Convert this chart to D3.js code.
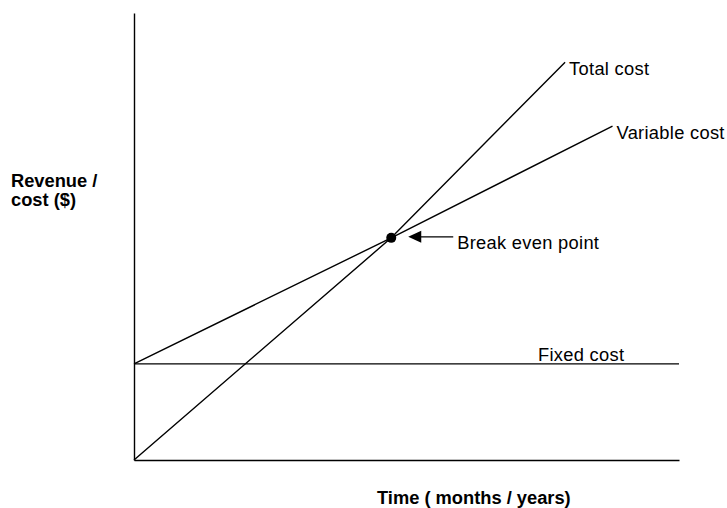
<!DOCTYPE html>
<html>

<head>
    <title>Break even chart</title>
    <script src="https://d3js.org/d3.v7.min.js"></script>
    <style>
        body { margin: 0; background: #fff; }
        text { font-family: "Liberation Sans", Arial, sans-serif; fill: #000; }
        .lbl { font-size: 18.3px; letter-spacing: 0.3px; }
        .ttl { font-size: 18.3px; font-weight: bold; }
    </style>
</head>

<body>
    <script>
        // values (x: 0-100 time, y: 0-100 revenue / cost)
        var fixedCost = [[0, 21.5], [100, 21.5]];
        var variableCost = [[0, 21.5], [47.2, 49.7], [87.8, 74.7]];
        var totalCost = [[0, 0], [47.2, 49.7], [79.1, 89.0]];
        var breakEven = [47.2, 49.7];
        var lineLabels = ["Total cost", "Variable cost", "Fixed cost"];

        var width = 727;
        var height = 508;

        var x = d3.scaleLinear().domain([0, 100]).range([134, 679]);
        var y = d3.scaleLinear().domain([0, 100]).range([460, 13]);

        var svg = d3.select("body").append("svg")
            .attr("width", width)
            .attr("height", height);

        // axes, no ticks
        var xAxis = d3.axisBottom(x).tickValues([]).tickSizeOuter(0);
        var yAxis = d3.axisLeft(y).tickValues([]).tickSizeOuter(0);
        svg.append("g").attr("transform", "translate(0," + y(0) + ")").call(xAxis);
        svg.append("g").attr("transform", "translate(" + x(0) + ",0)").call(yAxis);
        svg.selectAll(".domain").style("stroke", "#000").style("stroke-width", 1.4);

        var line = d3.line().x(d => x(d[0])).y(d => y(d[1]));

        [fixedCost, variableCost, totalCost].forEach(series => {
            svg.append("path")
                .attr("d", line(series))
                .style("fill", "none")
                .style("stroke", "#000")
                .style("stroke-width", 1.4);
        });

        // labels at the end of each line
        var tEnd = totalCost[totalCost.length - 1];
        var vEnd = variableCost[variableCost.length - 1];
        svg.append("text").attr("class", "lbl").attr("x", x(tEnd[0]) + 4).attr("y", y(tEnd[1]) + 13)
            .text(lineLabels[0]);
        svg.append("text").attr("class", "lbl").attr("x", x(vEnd[0]) + 4).attr("y", y(vEnd[1]) + 13)
            .text(lineLabels[1]);
        svg.append("text").attr("class", "lbl").attr("x", x(fixedCost[1][0]) - 141).attr("y", y(fixedCost[1][1]) - 3)
            .text(lineLabels[2]);

        // break even point + arrow
        var bx = x(breakEven[0]);
        var by = y(breakEven[1]);
        svg.append("circle").attr("cx", bx).attr("cy", by).attr("r", 5).style("fill", "#000");
        svg.append("line")
            .attr("x1", bx + 28).attr("y1", by - 1)
            .attr("x2", bx + 62).attr("y2", by - 1)
            .style("stroke", "#000").style("stroke-width", 1.4);
        svg.append("path")
            .attr("d", "M" + (bx + 17) + "," + (by - 1) + "L" + (bx + 30) + "," + (by - 7) + "L" + (bx + 30) + "," + (by + 5) + "Z")
            .style("fill", "#000");
        svg.append("text").attr("class", "lbl").attr("x", bx + 66).attr("y", by + 11)
            .text("Break even point");

        // axis titles
        var yTitle = svg.append("text").attr("class", "ttl");
        yTitle.append("tspan").attr("x", 11).attr("y", 187).text("Revenue /");
        yTitle.append("tspan").attr("x", 11).attr("y", 206).text("cost ($)");
        svg.append("text").attr("class", "ttl").attr("x", 377).attr("y", 504)
            .text("Time ( months / years)");
    </script>
</body>

</html>
